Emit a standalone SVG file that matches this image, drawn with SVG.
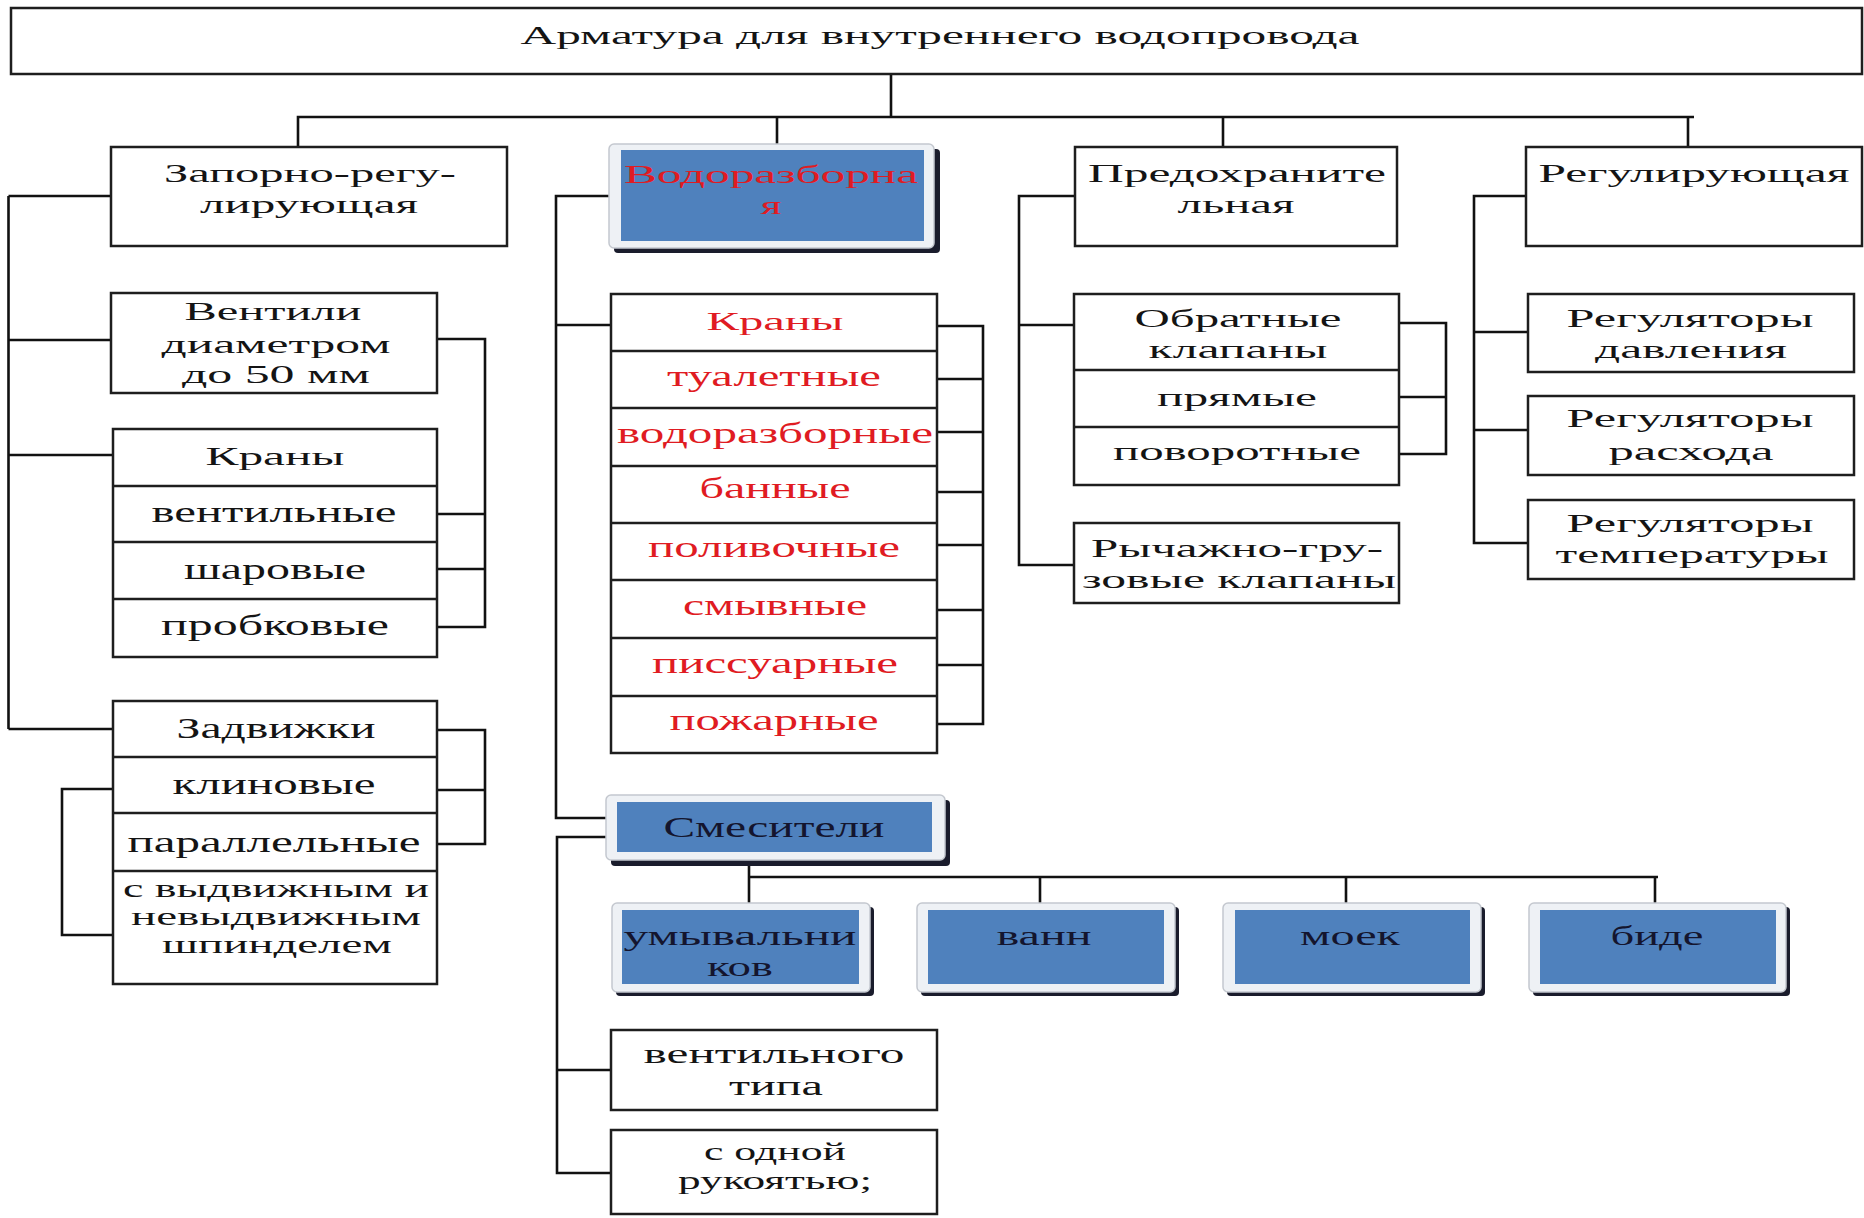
<svg xmlns="http://www.w3.org/2000/svg" width="1864" height="1218" viewBox="0 0 1864 1218">
<style>
.b{fill:#fff;stroke:#1e1e1e;stroke-width:2.5}
.dv{stroke:#1e1e1e;stroke-width:2.5}
.c{stroke:#111;stroke-width:2.6;fill:none}
.t{font-family:"Liberation Serif","Times New Roman",serif;font-size:26px;fill:#141414;text-anchor:middle}
.w{font-size:30px}
.s{font-size:26px}
.m{font-size:28px}
.r{fill:#e01b22}
.d{fill:#14152e}
.sh{fill:#1a1c2c}
.fr{fill:#eef1f5;stroke:#c4c8cf;stroke-width:1.5}
.bl{fill:#4f81bd}
</style>
<rect width="1864" height="1218" fill="#fff"/>
<g id="connectors">
<path class="c" d="M891 74V117M298 147V117H1694M777 117V144M1223 117V147M1688 117V147"/>
<path class="c" d="M8.5 196V729M8.5 196H111M8.5 340H111M8.5 455H113M8.5 729H113"/>
<path class="c" d="M437 339H485V627H437M437 514H485M437 569H485"/>
<path class="c" d="M437 730H485V844H437M437 790H485"/>
<path class="c" d="M113 789H62V935H113"/>
<path class="c" d="M609 196H556V818H606M556 325H611"/>
<path class="c" d="M606 837H557V1173H611M557 1070H611"/>
<path class="c" d="M937 326H983V724H937M937 379H983M937 432H983M937 492H983M937 545H983M937 610H983M937 665H983"/>
<path class="c" d="M749 860V903M749 877H1658M1040 877V903M1346 877V903M1655 877V903"/>
<path class="c" d="M1075 196H1019V565H1074M1019 325H1074"/>
<path class="c" d="M1399 323H1446V454H1399M1399 397H1446"/>
<path class="c" d="M1526 196H1474V543H1528M1474 332H1528M1474 430H1528"/>
</g>
<g id="root">
<rect class="b" x="11" y="8" width="1851" height="66"/>
<text class="t" x="940" y="44" textLength="839" lengthAdjust="spacingAndGlyphs">Арматура для внутреннего водопровода</text>
</g>
<g id="zapor">
<rect class="b" x="111" y="147" width="396" height="99"/>
<text class="t" x="310" y="182" textLength="292" lengthAdjust="spacingAndGlyphs">Запорно-регу-</text>
<text class="t" x="309" y="213" textLength="218" lengthAdjust="spacingAndGlyphs">лирующая</text>
</g>
<g id="vodorazb">
<rect class="sh" x="614" y="149" width="326" height="104" rx="4"/>
<rect class="fr" x="609" y="144" width="325" height="104" rx="5"/>
<rect class="bl" x="621" y="150" width="303" height="91"/>
<text class="t r" x="771" y="183" textLength="294" lengthAdjust="spacingAndGlyphs">Водоразборна</text>
<text class="t r" x="771" y="214" textLength="21" lengthAdjust="spacingAndGlyphs">я</text>
</g>
<g id="predohr">
<rect class="b" x="1075" y="147" width="322" height="99"/>
<text class="t" x="1237" y="182" textLength="298" lengthAdjust="spacingAndGlyphs">Предохраните</text>
<text class="t" x="1236" y="213" textLength="117" lengthAdjust="spacingAndGlyphs">льная</text>
</g>
<g id="regul">
<rect class="b" x="1526" y="147" width="336" height="99"/>
<text class="t" x="1694" y="182" textLength="311" lengthAdjust="spacingAndGlyphs">Регулирующая</text>
</g>
<g id="ventili">
<rect class="b" x="111" y="293" width="326" height="100"/>
<text class="t" x="273" y="320" textLength="177" lengthAdjust="spacingAndGlyphs">Вентили</text>
<text class="t" x="276" y="353" textLength="229" lengthAdjust="spacingAndGlyphs">диаметром</text>
<text class="t" x="276" y="383" textLength="188" lengthAdjust="spacingAndGlyphs">до 50 мм</text>
</g>
<g id="krany-left">
<rect class="b" x="113" y="429" width="324" height="228"/>
<path class="dv" d="M113 486H437M113 542H437M113 599H437"/>
<text class="t" x="275" y="465" textLength="139" lengthAdjust="spacingAndGlyphs">Краны</text>
<text class="t w" x="274" y="522" textLength="245" lengthAdjust="spacingAndGlyphs">вентильные</text>
<text class="t w" x="275" y="579" textLength="182" lengthAdjust="spacingAndGlyphs">шаровые</text>
<text class="t w" x="275" y="635" textLength="228" lengthAdjust="spacingAndGlyphs">пробковые</text>
</g>
<g id="zadvizhki">
<rect class="b" x="113" y="701" width="324" height="283"/>
<path class="dv" d="M113 757H437M113 813H437M113 871H437"/>
<text class="t w" x="276" y="738" textLength="199" lengthAdjust="spacingAndGlyphs">Задвижки</text>
<text class="t w" x="274" y="794" textLength="203" lengthAdjust="spacingAndGlyphs">клиновые</text>
<text class="t w" x="274" y="852" textLength="293" lengthAdjust="spacingAndGlyphs">параллельные</text>
<text class="t s" x="276" y="897" textLength="306" lengthAdjust="spacingAndGlyphs">с выдвижным и</text>
<text class="t s" x="276" y="925" textLength="290" lengthAdjust="spacingAndGlyphs">невыдвижным</text>
<text class="t s" x="277" y="953" textLength="230" lengthAdjust="spacingAndGlyphs">шпинделем</text>
</g>
<g id="krany-red">
<rect class="b" x="611" y="294" width="326" height="459"/>
<path class="dv" d="M611 351H937M611 408H937M611 466H937M611 523H937M611 580H937M611 638H937M611 696H937"/>
<text class="t r" x="775" y="330" textLength="137" lengthAdjust="spacingAndGlyphs">Краны</text>
<text class="t w r" x="774" y="386" textLength="214" lengthAdjust="spacingAndGlyphs">туалетные</text>
<text class="t w r" x="775" y="443" textLength="316" lengthAdjust="spacingAndGlyphs">водоразборные</text>
<text class="t w r" x="775" y="498" textLength="151" lengthAdjust="spacingAndGlyphs">банные</text>
<text class="t w r" x="774" y="557" textLength="252" lengthAdjust="spacingAndGlyphs">поливочные</text>
<text class="t w r" x="775" y="615" textLength="184" lengthAdjust="spacingAndGlyphs">смывные</text>
<text class="t w r" x="775" y="673" textLength="246" lengthAdjust="spacingAndGlyphs">писсуарные</text>
<text class="t w r" x="774" y="730" textLength="209" lengthAdjust="spacingAndGlyphs">пожарные</text>
</g>
<g id="smesiteli">
<rect class="sh" x="611" y="800" width="339" height="66" rx="4"/>
<rect class="fr" x="606" y="795" width="339" height="65" rx="5"/>
<rect class="bl" x="617" y="802" width="315" height="50"/>
<text class="t w d" x="774" y="837" textLength="221" lengthAdjust="spacingAndGlyphs">Смесители</text>
</g>
<g id="umyv">
<rect class="sh" x="616" y="907" width="258" height="89" rx="4"/>
<rect class="fr" x="612" y="903" width="258" height="89" rx="5"/>
<rect class="bl" x="622" y="910" width="237" height="74"/>
<text class="t m d" x="740" y="945" textLength="233" lengthAdjust="spacingAndGlyphs">умывальни</text>
<text class="t m d" x="740" y="976" textLength="66" lengthAdjust="spacingAndGlyphs">ков</text>
</g>
<g id="vann">
<rect class="sh" x="921" y="907" width="258" height="89" rx="4"/>
<rect class="fr" x="917" y="903" width="258" height="89" rx="5"/>
<rect class="bl" x="928" y="910" width="236" height="74"/>
<text class="t m d" x="1044" y="945" textLength="95" lengthAdjust="spacingAndGlyphs">ванн</text>
</g>
<g id="moek">
<rect class="sh" x="1227" y="907" width="258" height="89" rx="4"/>
<rect class="fr" x="1223" y="903" width="258" height="89" rx="5"/>
<rect class="bl" x="1235" y="910" width="235" height="74"/>
<text class="t m d" x="1350" y="945" textLength="100" lengthAdjust="spacingAndGlyphs">моек</text>
</g>
<g id="bide">
<rect class="sh" x="1533" y="907" width="257" height="89" rx="4"/>
<rect class="fr" x="1529" y="903" width="257" height="89" rx="5"/>
<rect class="bl" x="1540" y="910" width="236" height="74"/>
<text class="t m d" x="1657" y="945" textLength="93" lengthAdjust="spacingAndGlyphs">биде</text>
</g>
<g id="ventilnogo">
<rect class="b" x="611" y="1030" width="326" height="80"/>
<text class="t m" x="774" y="1063" textLength="261" lengthAdjust="spacingAndGlyphs">вентильного</text>
<text class="t m" x="776" y="1095" textLength="94" lengthAdjust="spacingAndGlyphs">типа</text>
</g>
<g id="odnoy">
<rect class="b" x="611" y="1130" width="326" height="84"/>
<text class="t s" x="775" y="1160" textLength="142" lengthAdjust="spacingAndGlyphs">с одной</text>
<text class="t s" x="775" y="1189" textLength="194" lengthAdjust="spacingAndGlyphs">рукоятью;</text>
</g>
<g id="obratnye">
<rect class="b" x="1074" y="294" width="325" height="191"/>
<path class="dv" d="M1074 370H1399M1074 427H1399"/>
<text class="t" x="1238" y="327" textLength="207" lengthAdjust="spacingAndGlyphs">Обратные</text>
<text class="t" x="1238" y="358" textLength="179" lengthAdjust="spacingAndGlyphs">клапаны</text>
<text class="t" x="1237" y="406" textLength="160" lengthAdjust="spacingAndGlyphs">прямые</text>
<text class="t" x="1237" y="460" textLength="248" lengthAdjust="spacingAndGlyphs">поворотные</text>
</g>
<g id="rychazhno">
<rect class="b" x="1074" y="523" width="325" height="80"/>
<text class="t" x="1237" y="557" textLength="292" lengthAdjust="spacingAndGlyphs">Рычажно-гру-</text>
<text class="t" x="1239" y="588" textLength="314" lengthAdjust="spacingAndGlyphs">зовые клапаны</text>
</g>
<g id="reg-davl">
<rect class="b" x="1528" y="294" width="326" height="78"/>
<text class="t" x="1690" y="327" textLength="247" lengthAdjust="spacingAndGlyphs">Регуляторы</text>
<text class="t" x="1691" y="358" textLength="192" lengthAdjust="spacingAndGlyphs">давления</text>
</g>
<g id="reg-rash">
<rect class="b" x="1528" y="396" width="326" height="79"/>
<text class="t" x="1690" y="427" textLength="247" lengthAdjust="spacingAndGlyphs">Регуляторы</text>
<text class="t" x="1691" y="460" textLength="165" lengthAdjust="spacingAndGlyphs">расхода</text>
</g>
<g id="reg-temp">
<rect class="b" x="1528" y="500" width="326" height="79"/>
<text class="t" x="1690" y="532" textLength="247" lengthAdjust="spacingAndGlyphs">Регуляторы</text>
<text class="t" x="1692" y="563" textLength="273" lengthAdjust="spacingAndGlyphs">температуры</text>
</g>
</svg>
